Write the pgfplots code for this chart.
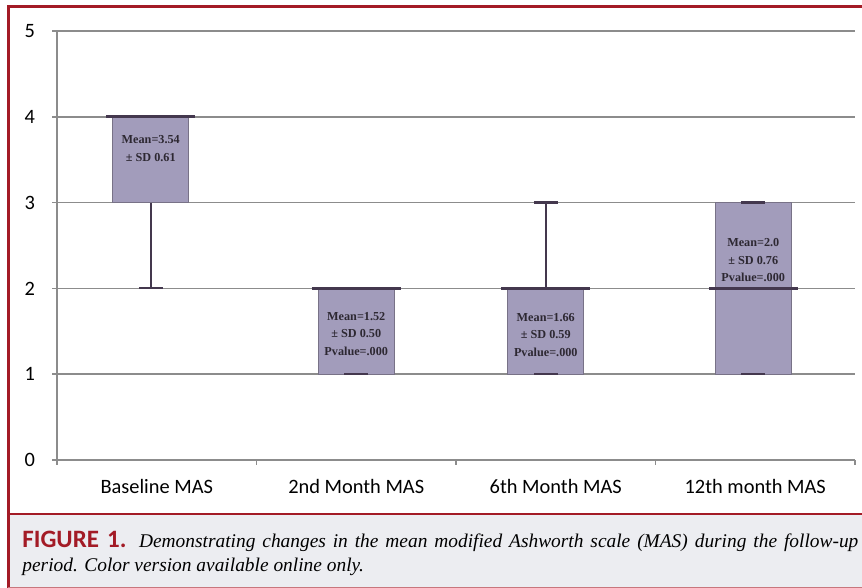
\documentclass[border=0pt]{standalone}
\usepackage{fontspec}
\setmainfont{Liberation Serif}
\newfontfamily\carlito{Carlito}
\usepackage{pgfplots}
\pgfplotsset{compat=1.18}
\usepgfplotslibrary{statistics}
\definecolor{figred}{RGB}{163,27,38}
\definecolor{capbg}{RGB}{236,237,241}
\definecolor{gridgray}{RGB}{140,140,140}
\definecolor{boxfill}{RGB}{162,156,187}
\definecolor{boxedge}{RGB}{120,114,135}
\definecolor{capcol}{RGB}{68,56,78}
\definecolor{txtcol}{RGB}{45,40,50}
\tikzset{annot/.style={font=\bfseries\fontsize{6.1}{8.75}\selectfont, text=txtcol, align=center}}
\begin{document}
\begin{tikzpicture}
\useasboundingbox (0,0) rectangle (431pt,294pt);
\fill[white] (0,0) rectangle (431pt,294pt);
\fill[capbg] (4.5pt,0) rectangle (431pt,37pt);
\draw[figred, line width=1.2pt] (4pt,37pt) -- (431pt,37pt);
\draw[figred, line width=1.5pt] (4pt,0) -- (4pt,290.5pt) -- (431pt,290.5pt);
\draw[figred!60, line width=0.6pt] (4pt,0.3pt) -- (431pt,0.3pt);
\begin{axis}[
  at={(28.5pt,64pt)}, anchor=south west,
  scale only axis, width=399pt, height=214.5pt,
  xmin=-0.5, xmax=3.5, ymin=0, ymax=5,
  axis x line*=bottom, axis y line*=left,
  axis line style={gridgray, line width=0.7pt},
  ytick={0,1,2,3,4,5},
  ymajorgrids, grid style={gridgray, line width=0.7pt},
  xtick={-0.5,0.5,1.5,2.5,3.5},
  xticklabels={,,,,},
  extra x ticks={0,1,2,3},
  extra x tick labels={Baseline MAS, 2nd Month MAS, 6th Month MAS, 12th month MAS},
  extra x tick style={major tick length=0pt, grid=none},
  major tick length=2.5pt,
  tick align=outside,
  tick style={gridgray, line width=0.7pt},
  tick label style={font=\carlito\fontsize{10.2}{12}\selectfont, text=black},
  /pgf/number format/assume math mode=true,
  xticklabel style={anchor=base, yshift=-17pt},
  yticklabel style={xshift=-5pt},
  clip=false,
  boxplot/draw direction=y,
  boxplot/box extend=0.38,
  boxplot/whisker extend=0.12,
  boxplot/every box/.style={draw=boxedge, line width=0.5pt, fill=boxfill},
  boxplot/draw/lower whisker/.code={},
  boxplot/draw/upper whisker/.code={},
  boxplot/draw/median/.code={%
    \draw[capcol, line width=1.1pt]
      (boxplot cs:\pgfplotsboxplotvalue{lower quartile}) --
      (boxplot cs:\pgfplotsboxplotvalue{lower whisker})
      (boxplot whisker cs:\pgfplotsboxplotvalue{lower whisker},0) --
      (boxplot whisker cs:\pgfplotsboxplotvalue{lower whisker},1)
      (boxplot cs:\pgfplotsboxplotvalue{upper quartile}) --
      (boxplot cs:\pgfplotsboxplotvalue{upper whisker})
      (boxplot whisker cs:\pgfplotsboxplotvalue{upper whisker},0) --
      (boxplot whisker cs:\pgfplotsboxplotvalue{upper whisker},1);
    \draw[capcol, line width=1.4pt]
      (boxplot box cs:\pgfplotsboxplotvalue{median},-0.085) --
      (boxplot box cs:\pgfplotsboxplotvalue{median},1.085);
  },
]
\addplot[boxplot prepared={draw position=-0.03, lower whisker=2, lower quartile=3, median=4, upper quartile=4, upper whisker=4}] coordinates {};
\addplot[boxplot prepared={draw position=1.0, lower whisker=1, lower quartile=1, median=2, upper quartile=2, upper whisker=2}] coordinates {};
\addplot[boxplot prepared={draw position=1.95, lower whisker=1, lower quartile=1, median=2, upper quartile=2, upper whisker=3}] coordinates {};
\addplot[boxplot prepared={draw position=2.99, lower whisker=1, lower quartile=1, median=2, upper quartile=3, upper whisker=3}] coordinates {};
\node[annot] at (axis cs:-0.03,3.63) {Mean=3.54\\± SD 0.61};
\node[annot] at (axis cs:1.0,1.47) {Mean=1.52\\± SD 0.50\\Pvalue=.000};
\node[annot] at (axis cs:1.95,1.457) {Mean=1.66\\± SD 0.59\\Pvalue=.000};
\node[annot] at (axis cs:2.99,2.33) {Mean=2.0\\± SD 0.76\\Pvalue=.000};
\end{axis}
\node[anchor=base west, inner sep=0pt] at (11pt,20pt) {\begin{minipage}[t]{418pt}\fontsize{9.7}{12}\selectfont\hyphenpenalty=10000\noindent{\carlito\bfseries\fontsize{12.5}{12}\selectfont\color{figred}FIGURE 1.} \textit{Demonstrating changes in the mean modified Ashworth scale (MAS) during the follow-up\linebreak period. Color version available online only.}\end{minipage}};
\end{tikzpicture}
\end{document}
